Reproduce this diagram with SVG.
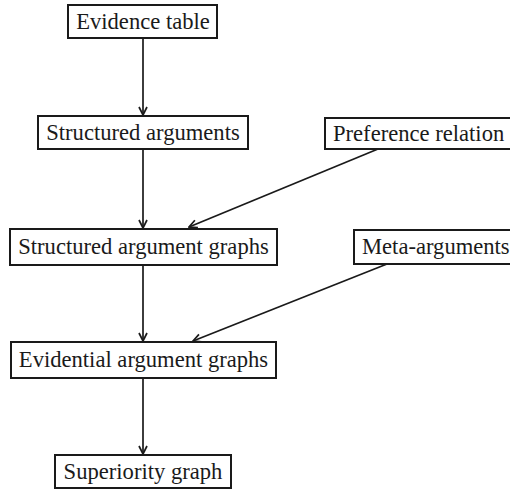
<svg xmlns="http://www.w3.org/2000/svg" width="510" height="489" viewBox="0 0 510 489">
<defs>
<style>
.box{fill:#fff;stroke:#1a1a1a;stroke-width:2}
.lbl{font-family:"Liberation Serif","Times New Roman",serif;font-size:22.6px;fill:#1a1a1a}
.mid{text-anchor:middle}
.edge{stroke:#1a1a1a;stroke-width:1.7;fill:none}
</style>
<marker id="arr" viewBox="0 0 10 10" refX="9" refY="5" markerWidth="10" markerHeight="10" markerUnits="userSpaceOnUse" orient="auto">
<path d="M1,1 L9,5 L1,9" fill="none" stroke="#1a1a1a" stroke-width="1.7"/>
</marker>
</defs>
<rect width="510" height="489" fill="#fff"/>
<g id="connectors">
<line class="edge" x1="143" y1="38" x2="143" y2="115" marker-end="url(#arr)"/>
<line class="edge" x1="143" y1="149" x2="143" y2="228" marker-end="url(#arr)"/>
<line class="edge" x1="143" y1="265" x2="143" y2="341" marker-end="url(#arr)"/>
<line class="edge" x1="143" y1="378" x2="143" y2="454" marker-end="url(#arr)"/>
<line class="edge" x1="378" y1="149" x2="189" y2="227" marker-end="url(#arr)"/>
<line class="edge" x1="387" y1="264" x2="193" y2="341" marker-end="url(#arr)"/>
</g>
<g id="evidence-table">
<rect class="box" x="68" y="5" width="149" height="33"/>
<text class="lbl mid" x="143" y="29">Evidence table</text>
</g>
<g id="structured-arguments">
<rect class="box" x="38" y="116" width="210" height="33"/>
<text class="lbl mid" x="143" y="140">Structured arguments</text>
</g>
<g id="preference-relation">
<rect class="box" x="325" y="118" width="195" height="31"/>
<text class="lbl" x="333" y="141">Preference relation</text>
</g>
<g id="structured-argument-graphs">
<rect class="box" x="10" y="229" width="267" height="36"/>
<text class="lbl mid" x="143.5" y="254">Structured argument graphs</text>
</g>
<g id="meta-arguments">
<rect class="box" x="354" y="230" width="166" height="34"/>
<text class="lbl" x="362" y="254">Meta-arguments</text>
</g>
<g id="evidential-argument-graphs">
<rect class="box" x="11" y="342" width="265" height="36"/>
<text class="lbl mid" x="143.5" y="367">Evidential argument graphs</text>
</g>
<g id="superiority-graph">
<rect class="box" x="55" y="455" width="176" height="33"/>
<text class="lbl mid" x="143" y="479">Superiority graph</text>
</g>
</svg>
